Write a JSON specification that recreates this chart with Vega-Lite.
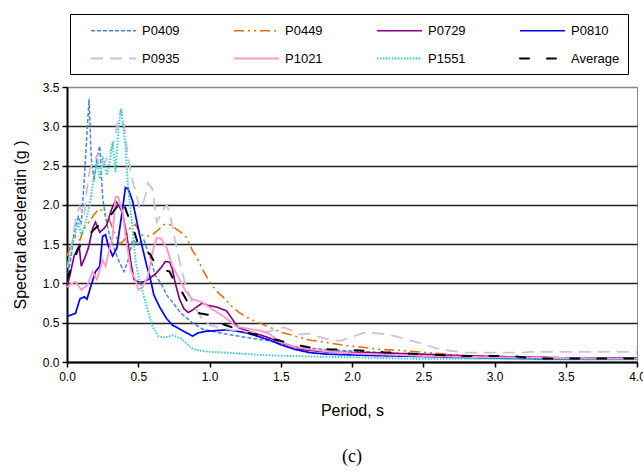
{
  "$schema": "https://vega.github.io/schema/vega-lite/v6.json",
  "width": 570,
  "height": 275,
  "autosize": "none",
  "padding": {"left": 67, "top": 87, "right": 6, "bottom": 112},
  "background": "white",
  "title": {"text": "(c)", "orient": "bottom", "anchor": "middle", "font": "Liberation Serif", "fontSize": 18, "fontWeight": "normal", "color": "black", "offset": 30},
  "config": {
    "view": {"stroke": "#888888", "strokeWidth": 1},
    "font": "Liberation Sans",
    "axis": {"labelFont": "Liberation Sans", "titleFont": "Liberation Sans", "labelColor": "black", "titleColor": "black", "domainColor": "black", "tickColor": "black", "titleFontWeight": "normal", "labelFontSize": 12, "titleFontSize": 16},
    "legend": {
      "orient": "none", "direction": "horizontal", "legendX": 3, "legendY": -73, "columns": 4, "gridAlign": "all",
      "symbolType": "M-3,0H3", "symbolSize": 225, "labelFontSize": 13, "labelFont": "Liberation Sans", "labelColor": "black",
      "labelOffset": 20, "columnPadding": 39, "rowPadding": 12, "padding": 8, "strokeColor": "black", "fillColor": "white",
      "titleOrient": "left", "titlePadding": 27, "titleFontSize": 10
    }
  },
  "data": {"values": [
    {"s":"P0409","T":0,"A":1.05},{"s":"P0409","T":0.03,"A":1.35},{"s":"P0409","T":0.05,"A":1.65},{"s":"P0409","T":0.08,"A":1.85},{"s":"P0409","T":0.1,"A":1.75},{"s":"P0409","T":0.12,"A":2.3},{"s":"P0409","T":0.14,"A":2.9},{"s":"P0409","T":0.155,"A":3.35},{"s":"P0409","T":0.17,"A":2.6},{"s":"P0409","T":0.19,"A":2.3},{"s":"P0409","T":0.21,"A":2.6},{"s":"P0409","T":0.23,"A":2.75},{"s":"P0409","T":0.25,"A":2.1},{"s":"P0409","T":0.27,"A":1.85},{"s":"P0409","T":0.3,"A":1.6},{"s":"P0409","T":0.33,"A":1.45},{"s":"P0409","T":0.36,"A":1.3},{"s":"P0409","T":0.4,"A":1.15},{"s":"P0409","T":0.43,"A":1.3},{"s":"P0409","T":0.46,"A":1.55},{"s":"P0409","T":0.5,"A":1.5},{"s":"P0409","T":0.54,"A":1.55},{"s":"P0409","T":0.58,"A":1.35},{"s":"P0409","T":0.62,"A":1.1},{"s":"P0409","T":0.66,"A":1.0},{"s":"P0409","T":0.7,"A":0.85},{"s":"P0409","T":0.75,"A":0.74},{"s":"P0409","T":0.8,"A":0.62},{"s":"P0409","T":0.88,"A":0.5},{"s":"P0409","T":0.95,"A":0.42},{"s":"P0409","T":1.02,"A":0.39},{"s":"P0409","T":1.1,"A":0.36},{"s":"P0409","T":1.2,"A":0.33},{"s":"P0409","T":1.3,"A":0.3},{"s":"P0409","T":1.42,"A":0.27},{"s":"P0409","T":1.5,"A":0.23},{"s":"P0409","T":1.6,"A":0.2},{"s":"P0409","T":1.7,"A":0.18},{"s":"P0409","T":1.8,"A":0.16},{"s":"P0409","T":2.0,"A":0.14},{"s":"P0409","T":2.2,"A":0.12},{"s":"P0409","T":2.4,"A":0.1},{"s":"P0409","T":2.6,"A":0.08},{"s":"P0409","T":2.8,"A":0.07},{"s":"P0409","T":3.0,"A":0.06},{"s":"P0409","T":3.3,"A":0.05},{"s":"P0409","T":3.6,"A":0.05},{"s":"P0409","T":4.0,"A":0.04},
    {"s":"P0449","T":0,"A":1.35},{"s":"P0449","T":0.03,"A":1.5},{"s":"P0449","T":0.06,"A":1.6},{"s":"P0449","T":0.09,"A":1.55},{"s":"P0449","T":0.12,"A":1.7},{"s":"P0449","T":0.16,"A":1.8},{"s":"P0449","T":0.2,"A":1.9},{"s":"P0449","T":0.23,"A":1.95},{"s":"P0449","T":0.26,"A":1.9},{"s":"P0449","T":0.3,"A":1.8},{"s":"P0449","T":0.33,"A":1.65},{"s":"P0449","T":0.37,"A":1.5},{"s":"P0449","T":0.4,"A":1.55},{"s":"P0449","T":0.44,"A":1.7},{"s":"P0449","T":0.48,"A":1.75},{"s":"P0449","T":0.52,"A":1.62},{"s":"P0449","T":0.56,"A":1.6},{"s":"P0449","T":0.6,"A":1.62},{"s":"P0449","T":0.64,"A":1.68},{"s":"P0449","T":0.68,"A":1.75},{"s":"P0449","T":0.72,"A":1.75},{"s":"P0449","T":0.76,"A":1.7},{"s":"P0449","T":0.8,"A":1.65},{"s":"P0449","T":0.84,"A":1.58},{"s":"P0449","T":0.88,"A":1.42},{"s":"P0449","T":0.92,"A":1.3},{"s":"P0449","T":0.96,"A":1.15},{"s":"P0449","T":1.0,"A":1.02},{"s":"P0449","T":1.05,"A":0.9},{"s":"P0449","T":1.1,"A":0.82},{"s":"P0449","T":1.15,"A":0.72},{"s":"P0449","T":1.2,"A":0.64},{"s":"P0449","T":1.26,"A":0.57},{"s":"P0449","T":1.33,"A":0.51},{"s":"P0449","T":1.4,"A":0.46},{"s":"P0449","T":1.5,"A":0.38},{"s":"P0449","T":1.6,"A":0.33},{"s":"P0449","T":1.7,"A":0.28},{"s":"P0449","T":1.82,"A":0.25},{"s":"P0449","T":1.95,"A":0.21},{"s":"P0449","T":2.06,"A":0.19},{"s":"P0449","T":2.2,"A":0.16},{"s":"P0449","T":2.32,"A":0.15},{"s":"P0449","T":2.45,"A":0.13},{"s":"P0449","T":2.53,"A":0.12},{"s":"P0449","T":2.65,"A":0.1},{"s":"P0449","T":2.75,"A":0.085},{"s":"P0449","T":3.0,"A":0.07},{"s":"P0449","T":3.3,"A":0.06},{"s":"P0449","T":3.6,"A":0.05},{"s":"P0449","T":4.0,"A":0.045},
    {"s":"P0729","T":0,"A":0.95},{"s":"P0729","T":0.02,"A":1.1},{"s":"P0729","T":0.05,"A":1.35},{"s":"P0729","T":0.085,"A":1.48},{"s":"P0729","T":0.1,"A":1.22},{"s":"P0729","T":0.13,"A":1.35},{"s":"P0729","T":0.15,"A":1.45},{"s":"P0729","T":0.18,"A":1.7},{"s":"P0729","T":0.2,"A":1.78},{"s":"P0729","T":0.23,"A":1.65},{"s":"P0729","T":0.26,"A":1.7},{"s":"P0729","T":0.28,"A":1.75},{"s":"P0729","T":0.31,"A":1.93},{"s":"P0729","T":0.34,"A":2.05},{"s":"P0729","T":0.36,"A":2.0},{"s":"P0729","T":0.39,"A":1.9},{"s":"P0729","T":0.42,"A":1.6},{"s":"P0729","T":0.45,"A":1.25},{"s":"P0729","T":0.47,"A":1.05},{"s":"P0729","T":0.5,"A":1.02},{"s":"P0729","T":0.54,"A":1.02},{"s":"P0729","T":0.57,"A":1.05},{"s":"P0729","T":0.62,"A":1.12},{"s":"P0729","T":0.66,"A":1.2},{"s":"P0729","T":0.69,"A":1.28},{"s":"P0729","T":0.72,"A":1.27},{"s":"P0729","T":0.74,"A":1.18},{"s":"P0729","T":0.76,"A":1.0},{"s":"P0729","T":0.79,"A":0.8},{"s":"P0729","T":0.82,"A":0.68},{"s":"P0729","T":0.85,"A":0.63},{"s":"P0729","T":0.88,"A":0.66},{"s":"P0729","T":0.91,"A":0.7},{"s":"P0729","T":0.95,"A":0.75},{"s":"P0729","T":0.99,"A":0.72},{"s":"P0729","T":1.05,"A":0.7},{"s":"P0729","T":1.12,"A":0.65},{"s":"P0729","T":1.17,"A":0.52},{"s":"P0729","T":1.2,"A":0.44},{"s":"P0729","T":1.26,"A":0.4},{"s":"P0729","T":1.31,"A":0.37},{"s":"P0729","T":1.4,"A":0.32},{"s":"P0729","T":1.5,"A":0.25},{"s":"P0729","T":1.64,"A":0.16},{"s":"P0729","T":1.8,"A":0.13},{"s":"P0729","T":2.0,"A":0.12},{"s":"P0729","T":2.1,"A":0.12},{"s":"P0729","T":2.3,"A":0.11},{"s":"P0729","T":2.5,"A":0.1},{"s":"P0729","T":2.8,"A":0.08},{"s":"P0729","T":3.0,"A":0.07},{"s":"P0729","T":3.3,"A":0.06},{"s":"P0729","T":3.6,"A":0.05},{"s":"P0729","T":4.0,"A":0.05},
    {"s":"P0810","T":0,"A":0.58},{"s":"P0810","T":0.03,"A":0.6},{"s":"P0810","T":0.06,"A":0.62},{"s":"P0810","T":0.09,"A":0.8},{"s":"P0810","T":0.12,"A":0.83},{"s":"P0810","T":0.14,"A":0.8},{"s":"P0810","T":0.17,"A":0.98},{"s":"P0810","T":0.2,"A":1.15},{"s":"P0810","T":0.23,"A":1.22},{"s":"P0810","T":0.25,"A":1.6},{"s":"P0810","T":0.27,"A":1.62},{"s":"P0810","T":0.29,"A":1.48},{"s":"P0810","T":0.32,"A":1.35},{"s":"P0810","T":0.35,"A":1.45},{"s":"P0810","T":0.37,"A":1.7},{"s":"P0810","T":0.39,"A":1.95},{"s":"P0810","T":0.41,"A":2.22},{"s":"P0810","T":0.43,"A":2.2},{"s":"P0810","T":0.46,"A":2.05},{"s":"P0810","T":0.5,"A":1.7},{"s":"P0810","T":0.53,"A":1.45},{"s":"P0810","T":0.56,"A":1.22},{"s":"P0810","T":0.58,"A":1.1},{"s":"P0810","T":0.61,"A":0.85},{"s":"P0810","T":0.65,"A":0.7},{"s":"P0810","T":0.7,"A":0.55},{"s":"P0810","T":0.74,"A":0.47},{"s":"P0810","T":0.79,"A":0.42},{"s":"P0810","T":0.84,"A":0.37},{"s":"P0810","T":0.88,"A":0.33},{"s":"P0810","T":0.92,"A":0.37},{"s":"P0810","T":0.97,"A":0.39},{"s":"P0810","T":1.05,"A":0.4},{"s":"P0810","T":1.12,"A":0.41},{"s":"P0810","T":1.2,"A":0.39},{"s":"P0810","T":1.26,"A":0.37},{"s":"P0810","T":1.35,"A":0.32},{"s":"P0810","T":1.42,"A":0.28},{"s":"P0810","T":1.5,"A":0.22},{"s":"P0810","T":1.6,"A":0.16},{"s":"P0810","T":1.7,"A":0.12},{"s":"P0810","T":1.82,"A":0.1},{"s":"P0810","T":2.0,"A":0.09},{"s":"P0810","T":2.2,"A":0.08},{"s":"P0810","T":2.5,"A":0.07},{"s":"P0810","T":2.7,"A":0.06},{"s":"P0810","T":3.0,"A":0.05},{"s":"P0810","T":3.3,"A":0.04},{"s":"P0810","T":3.6,"A":0.04},{"s":"P0810","T":4.0,"A":0.04},
    {"s":"P0935","T":0,"A":1.2},{"s":"P0935","T":0.02,"A":1.35},{"s":"P0935","T":0.04,"A":1.58},{"s":"P0935","T":0.07,"A":1.9},{"s":"P0935","T":0.09,"A":1.98},{"s":"P0935","T":0.12,"A":1.85},{"s":"P0935","T":0.14,"A":2.2},{"s":"P0935","T":0.16,"A":2.45},{"s":"P0935","T":0.18,"A":2.52},{"s":"P0935","T":0.21,"A":2.62},{"s":"P0935","T":0.23,"A":2.45},{"s":"P0935","T":0.25,"A":2.5},{"s":"P0935","T":0.27,"A":2.55},{"s":"P0935","T":0.3,"A":2.68},{"s":"P0935","T":0.32,"A":2.75},{"s":"P0935","T":0.34,"A":2.9},{"s":"P0935","T":0.36,"A":3.1},{"s":"P0935","T":0.38,"A":3.22},{"s":"P0935","T":0.4,"A":3.0},{"s":"P0935","T":0.43,"A":2.6},{"s":"P0935","T":0.46,"A":2.3},{"s":"P0935","T":0.48,"A":2.18},{"s":"P0935","T":0.51,"A":1.95},{"s":"P0935","T":0.53,"A":2.0},{"s":"P0935","T":0.55,"A":2.12},{"s":"P0935","T":0.57,"A":2.28},{"s":"P0935","T":0.6,"A":2.2},{"s":"P0935","T":0.63,"A":1.78},{"s":"P0935","T":0.65,"A":1.85},{"s":"P0935","T":0.68,"A":1.95},{"s":"P0935","T":0.7,"A":2.0},{"s":"P0935","T":0.72,"A":1.9},{"s":"P0935","T":0.74,"A":1.72},{"s":"P0935","T":0.77,"A":1.45},{"s":"P0935","T":0.8,"A":1.2},{"s":"P0935","T":0.83,"A":1.0},{"s":"P0935","T":0.88,"A":0.75},{"s":"P0935","T":0.95,"A":0.54},{"s":"P0935","T":1.0,"A":0.47},{"s":"P0935","T":1.07,"A":0.44},{"s":"P0935","T":1.15,"A":0.41},{"s":"P0935","T":1.28,"A":0.38},{"s":"P0935","T":1.4,"A":0.38},{"s":"P0935","T":1.52,"A":0.44},{"s":"P0935","T":1.58,"A":0.4},{"s":"P0935","T":1.64,"A":0.35},{"s":"P0935","T":1.7,"A":0.36},{"s":"P0935","T":1.75,"A":0.33},{"s":"P0935","T":1.85,"A":0.28},{"s":"P0935","T":1.92,"A":0.27},{"s":"P0935","T":2.0,"A":0.32},{"s":"P0935","T":2.1,"A":0.38},{"s":"P0935","T":2.2,"A":0.36},{"s":"P0935","T":2.3,"A":0.33},{"s":"P0935","T":2.46,"A":0.25},{"s":"P0935","T":2.6,"A":0.17},{"s":"P0935","T":2.7,"A":0.14},{"s":"P0935","T":2.8,"A":0.12},{"s":"P0935","T":3.0,"A":0.12},{"s":"P0935","T":3.2,"A":0.12},{"s":"P0935","T":3.25,"A":0.13},{"s":"P0935","T":3.5,"A":0.13},{"s":"P0935","T":4.0,"A":0.13},
    {"s":"P1021","T":0,"A":0.95},{"s":"P1021","T":0.03,"A":1.0},{"s":"P1021","T":0.06,"A":1.02},{"s":"P1021","T":0.1,"A":0.92},{"s":"P1021","T":0.14,"A":0.97},{"s":"P1021","T":0.18,"A":1.15},{"s":"P1021","T":0.21,"A":1.05},{"s":"P1021","T":0.25,"A":1.3},{"s":"P1021","T":0.27,"A":1.22},{"s":"P1021","T":0.3,"A":1.45},{"s":"P1021","T":0.32,"A":1.6},{"s":"P1021","T":0.34,"A":2.1},{"s":"P1021","T":0.36,"A":2.1},{"s":"P1021","T":0.39,"A":1.9},{"s":"P1021","T":0.42,"A":1.5},{"s":"P1021","T":0.45,"A":1.15},{"s":"P1021","T":0.48,"A":1.05},{"s":"P1021","T":0.5,"A":0.92},{"s":"P1021","T":0.53,"A":0.95},{"s":"P1021","T":0.57,"A":1.1},{"s":"P1021","T":0.6,"A":1.4},{"s":"P1021","T":0.63,"A":1.58},{"s":"P1021","T":0.66,"A":1.57},{"s":"P1021","T":0.7,"A":1.45},{"s":"P1021","T":0.74,"A":1.22},{"s":"P1021","T":0.79,"A":1.05},{"s":"P1021","T":0.84,"A":0.88},{"s":"P1021","T":0.88,"A":0.8},{"s":"P1021","T":0.95,"A":0.76},{"s":"P1021","T":1.02,"A":0.67},{"s":"P1021","T":1.1,"A":0.58},{"s":"P1021","T":1.19,"A":0.45},{"s":"P1021","T":1.28,"A":0.42},{"s":"P1021","T":1.35,"A":0.4},{"s":"P1021","T":1.42,"A":0.36},{"s":"P1021","T":1.49,"A":0.26},{"s":"P1021","T":1.6,"A":0.19},{"s":"P1021","T":1.71,"A":0.16},{"s":"P1021","T":1.85,"A":0.13},{"s":"P1021","T":2.0,"A":0.11},{"s":"P1021","T":2.3,"A":0.09},{"s":"P1021","T":2.6,"A":0.07},{"s":"P1021","T":3.0,"A":0.06},{"s":"P1021","T":3.5,"A":0.05},{"s":"P1021","T":4.0,"A":0.04},
    {"s":"P1551","T":0,"A":1.2},{"s":"P1551","T":0.02,"A":1.35},{"s":"P1551","T":0.04,"A":1.52},{"s":"P1551","T":0.06,"A":1.65},{"s":"P1551","T":0.08,"A":1.78},{"s":"P1551","T":0.1,"A":1.62},{"s":"P1551","T":0.12,"A":1.72},{"s":"P1551","T":0.14,"A":1.85},{"s":"P1551","T":0.16,"A":2.0},{"s":"P1551","T":0.18,"A":2.25},{"s":"P1551","T":0.21,"A":2.55},{"s":"P1551","T":0.23,"A":2.33},{"s":"P1551","T":0.25,"A":2.62},{"s":"P1551","T":0.28,"A":2.38},{"s":"P1551","T":0.3,"A":2.55},{"s":"P1551","T":0.32,"A":2.8},{"s":"P1551","T":0.34,"A":2.42},{"s":"P1551","T":0.36,"A":2.95},{"s":"P1551","T":0.38,"A":3.22},{"s":"P1551","T":0.41,"A":2.75},{"s":"P1551","T":0.43,"A":2.2},{"s":"P1551","T":0.46,"A":1.7},{"s":"P1551","T":0.48,"A":1.3},{"s":"P1551","T":0.5,"A":1.1},{"s":"P1551","T":0.53,"A":0.9},{"s":"P1551","T":0.56,"A":0.7},{"s":"P1551","T":0.6,"A":0.45},{"s":"P1551","T":0.64,"A":0.33},{"s":"P1551","T":0.69,"A":0.31},{"s":"P1551","T":0.74,"A":0.34},{"s":"P1551","T":0.8,"A":0.3},{"s":"P1551","T":0.88,"A":0.17},{"s":"P1551","T":0.95,"A":0.14},{"s":"P1551","T":1.0,"A":0.13},{"s":"P1551","T":1.1,"A":0.12},{"s":"P1551","T":1.2,"A":0.11},{"s":"P1551","T":1.35,"A":0.09},{"s":"P1551","T":1.5,"A":0.08},{"s":"P1551","T":1.7,"A":0.07},{"s":"P1551","T":2.0,"A":0.06},{"s":"P1551","T":2.2,"A":0.05},{"s":"P1551","T":2.5,"A":0.04},{"s":"P1551","T":3.0,"A":0.04},{"s":"P1551","T":3.5,"A":0.03},{"s":"P1551","T":4.0,"A":0.03},
    {"s":"Average","T":0,"A":1.05},{"s":"Average","T":0.04,"A":1.25},{"s":"Average","T":0.08,"A":1.45},{"s":"Average","T":0.13,"A":1.55},{"s":"Average","T":0.175,"A":1.66},{"s":"Average","T":0.21,"A":1.72},{"s":"Average","T":0.25,"A":1.78},{"s":"Average","T":0.3,"A":1.85},{"s":"Average","T":0.34,"A":1.95},{"s":"Average","T":0.37,"A":2.02},{"s":"Average","T":0.39,"A":2.07},{"s":"Average","T":0.42,"A":1.9},{"s":"Average","T":0.46,"A":1.72},{"s":"Average","T":0.5,"A":1.5},{"s":"Average","T":0.53,"A":1.4},{"s":"Average","T":0.58,"A":1.38},{"s":"Average","T":0.62,"A":1.25},{"s":"Average","T":0.67,"A":1.18},{"s":"Average","T":0.72,"A":1.15},{"s":"Average","T":0.76,"A":1.0},{"s":"Average","T":0.81,"A":0.88},{"s":"Average","T":0.85,"A":0.75},{"s":"Average","T":0.9,"A":0.65},{"s":"Average","T":0.93,"A":0.62},{"s":"Average","T":0.99,"A":0.6},{"s":"Average","T":1.05,"A":0.52},{"s":"Average","T":1.11,"A":0.47},{"s":"Average","T":1.18,"A":0.43},{"s":"Average","T":1.25,"A":0.38},{"s":"Average","T":1.32,"A":0.35},{"s":"Average","T":1.4,"A":0.3},{"s":"Average","T":1.48,"A":0.28},{"s":"Average","T":1.57,"A":0.23},{"s":"Average","T":1.66,"A":0.2},{"s":"Average","T":1.75,"A":0.17},{"s":"Average","T":1.85,"A":0.16},{"s":"Average","T":2.03,"A":0.15},{"s":"Average","T":2.22,"A":0.125},{"s":"Average","T":2.39,"A":0.11},{"s":"Average","T":2.6,"A":0.09},{"s":"Average","T":2.74,"A":0.075},{"s":"Average","T":2.95,"A":0.075},{"s":"Average","T":3.13,"A":0.075},{"s":"Average","T":3.25,"A":0.05},{"s":"Average","T":3.32,"A":0.045},{"s":"Average","T":3.5,"A":0.045},{"s":"Average","T":4.0,"A":0.045}
  ]},
  "encoding": {
    "x": {"field": "T", "type": "quantitative", "scale": {"domain": [0, 4], "nice": false},
      "axis": {"values": [0, 0.5, 1, 1.5, 2, 2.5, 3, 3.5, 4], "format": ".1f", "grid": false, "domainWidth": 2, "tickWidth": 1.5, "tickSize": 5, "labelPadding": 4, "title": "Period, s", "titlePadding": 20, "labelFlush": false}},
    "y": {"field": "A", "type": "quantitative", "scale": {"domain": [0, 3.5], "nice": false},
      "axis": {"values": [0, 0.5, 1, 1.5, 2, 2.5, 3, 3.5], "format": ".1f", "grid": true, "gridColor": {"condition": {"test": "datum.value >= 3.5", "value": "#888888"}, "value": "#222222"}, "gridWidth": 1.6, "domainWidth": 2, "tickWidth": 1.5, "tickSize": 5, "labelPadding": 3, "title": "Spectral acceleratin (g )", "titlePadding": 14}},
    "color": {"field": "s", "type": "nominal", "title": " ",
      "legend": {"encode": {"symbols": {"update": {"strokeCap": [{"test": "datum.value === 'Average'", "value": "round"}, {"value": "butt"}]}}}},
      "scale": {"domain": ["P0409","P0449","P0729","P0810","P0935","P1021","P1551","Average"], "range": ["#4A86D6","#E46C0A","#800080","#0000FF","#CCC1DA","#FF99CC","#33CCCC","#000000"]}},
    "strokeDash": {"field": "s", "type": "nominal", "title": " ",
      "scale": {"domain": ["P0409","P0449","P0729","P0810","P0935","P1021","P1551","Average"], "range": [[4,2],[10,4,2,4,2,4],[1,0],[1,0],[12,7],[1,0],[1.5,1.5],[9,18]]}},
    "strokeWidth": {"field": "s", "type": "nominal", "title": " ",
      "scale": {"domain": ["P0409","P0449","P0729","P0810","P0935","P1021","P1551","Average"], "range": [1.5,2,1.6,1.6,2,1.6,1.5,5]}}
  },
  "layer": [
    {"transform": [{"filter": "datum.s !== 'Average'"}], "mark": {"type": "line", "strokeCap": "butt", "clip": true}},
    {"transform": [{"filter": "datum.s === 'Average'"}], "mark": {"type": "line", "strokeCap": "round", "clip": true}}
  ]
}
